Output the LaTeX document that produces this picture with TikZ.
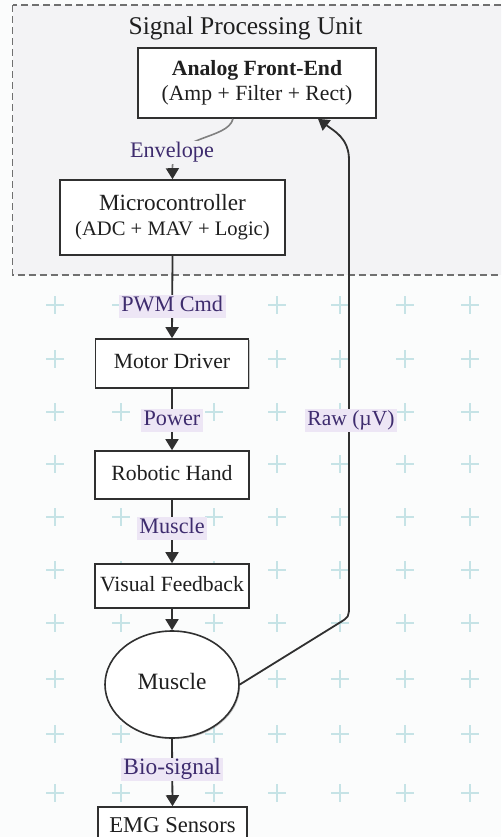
\documentclass[tikz,border=0pt]{standalone}
\usepackage{fontspec}
\setmainfont{Liberation Serif}
\usetikzlibrary{arrows.meta,shadows,shapes.geometric}

\definecolor{linecol}{HTML}{303030}
\definecolor{pagebg}{HTML}{FBFCFC}
\definecolor{unitbg}{HTML}{F3F3F5}
\definecolor{tagbg}{HTML}{EDE6F5}
\definecolor{tagtext}{HTML}{3E2C6E}
\definecolor{gridcross}{HTML}{C6E3E6}
\definecolor{dashcol}{HTML}{707070}
\definecolor{softline}{HTML}{808080}

\newcommand{\fsz}[1]{\fontsize{#1}{25}\selectfont}

\tikzset{
  block/.style={font=\fsz{21.7}, draw=linecol, line width=1.6pt, fill=white, rectangle,
    align=center, text=black!88, inner sep=0pt,
    drop shadow={shadow xshift=1.2pt, shadow yshift=-1.2pt, opacity=0.22, fill=black}},
  oneline/.style={text height=15pt, text depth=5pt},
  tag/.style={font=\fsz{22.2}, fill=tagbg, text=tagtext, inner xsep=2.5pt, inner ysep=1.5pt,
    text height=15pt, text depth=5pt},
  flow/.style={draw=linecol, line width=1.8pt, -{Triangle[width=13pt,length=11pt]}},
  crossmark/.style={draw=gridcross, line width=2.4pt},
}

\begin{document}
\begin{tikzpicture}[x=1pt,y=-1pt]
  \useasboundingbox (0,0) rectangle (501,837);
  \clip (0,0) rectangle (501,837);
  \fill[pagebg] (0,0) rectangle (501,837);

  % background grid of small crosses
  \foreach \cy in {305,359,412,464,517,570,623,679,734,793}{
    \foreach \cx in {55,121,214,277,340,405,470}{
      \draw[crossmark] ({\cx-9},\cy) -- ({\cx+9},\cy) (\cx,{\cy-9}) -- (\cx,{\cy+9});
    }
  }

  % processing unit frame
  \draw[draw=dashcol, fill=unitbg, line width=1.3pt, dash pattern=on 7pt off 4pt]
    (12.5,5) rectangle (520,275);
  \node[font=\fontsize{25.5}{30}\selectfont, text=black!88, anchor=base] (title)
    at (245.5,35) {Signal Processing Unit};

  % blocks
  \node[block, minimum width=238pt, minimum height=70pt] (afe)
    at (257,83) {\textbf{Analog Front-End}\\(Amp + Filter + Rect)};
  \node[block, minimum width=225pt, minimum height=75pt] (micro)
    at (172.5,217.5) {{\fsz{23.2}Microcontroller}\\{\fsz{20.6}(ADC + MAV + Logic)}};
  \node[block, oneline, minimum width=153pt, minimum height=49pt] (motor)
    at (172,363.5) {Motor Driver};
  \node[block, oneline, minimum width=154pt, minimum height=48pt] (hand)
    at (172,475) {Robotic Hand};
  \node[block, oneline, minimum width=154pt, minimum height=44pt] (vf)
    at (172,586) {Visual Feedback};
  \node[block, oneline, ellipse, font=\fsz{23.4}, minimum width=134pt, minimum height=107pt] (muscle)
    at (172,684.5) {Muscle};
  \node[block, font=\fsz{22.6}, minimum width=149pt, minimum height=37pt] (emg)
    at (172.5,825.5) {EMG Sensors};

  % envelope link inside the unit
  \draw[draw=softline, line width=1.6pt,
        -{Triangle[width=13pt,length=11pt,color=linecol,fill=linecol]}]
    ([xshift=-24pt]afe.south) .. controls (228,140) and (172,135) .. (micro.north);
  \node[tag, fill=unitbg] (envtag) at (172,153) {Envelope};

  % main chain
  \draw[flow] (micro.south) -- node[tag, pos=0.61] (pwmtag) {PWM Cmd} (motor.north);
  \draw[flow] (motor.south) -- node[tag, pos=0.52] (powtag) {Power} (hand.north);
  \draw[flow] (hand.south) -- node[tag, pos=0.46] (mustag) {Muscle} (vf.north);
  \draw[flow] (vf.south) -- (muscle.north);
  \draw[flow] (muscle.south) -- node[tag, pos=0.46, font=\fsz{23.4}] (biotag) {Bio-signal} (emg.north);

  % raw signal return path
  \draw[flow] (muscle.east) -- (338.8,623.2) .. controls (349,617) .. (349,605)
    -- (349,160) .. controls (349,138) and (334,131) .. ([xshift=61pt]afe.south);
  \node[tag, font=\fsz{21.5}] (rawtag) at (351,420) {Raw (µV)};
\end{tikzpicture}
\end{document}
